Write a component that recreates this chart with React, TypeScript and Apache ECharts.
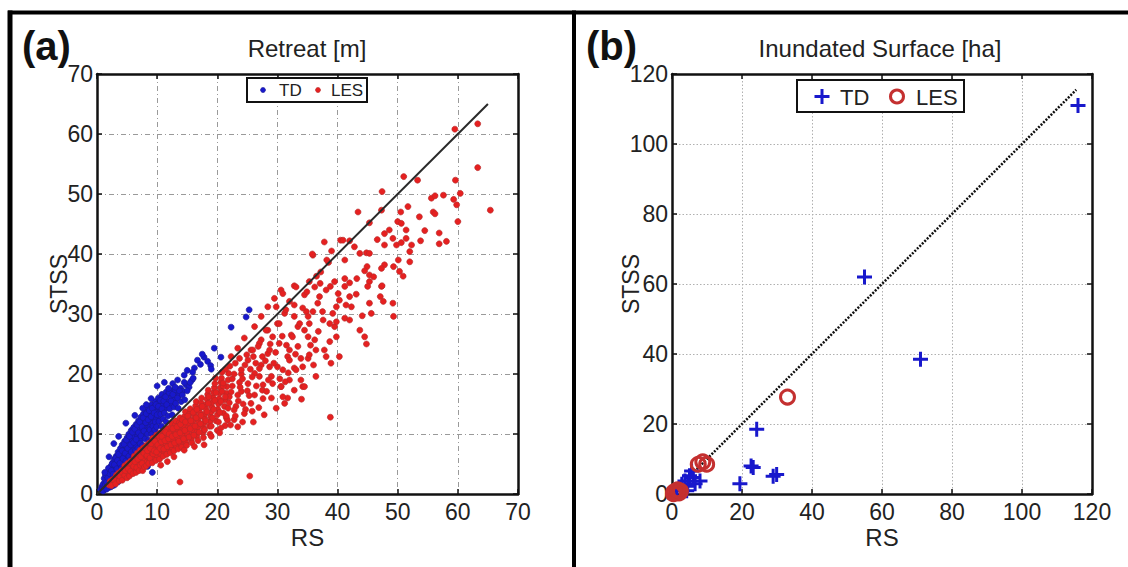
import React, { useEffect, useRef } from "react";
import * as echarts from "echarts";

// ---------- Panel (a): Retreat [m] ----------
const retreatTicks = [0, 10, 20, 30, 40, 50, 60, 70];

const tdCore: number[][] = [
  [0.6,0.7],[0.8,1.2],[0.9,0.9],[1.0,1.6],[1.1,0.6],[1.2,1.1],[1.3,2.0],[1.4,1.5],[1.5,0.9],[1.5,2.5],
  [1.7,1.3],[1.7,3.0],[1.8,1.9],[1.9,3.5],[2.0,1.1],[2.0,2.4],[2.1,4.0],[2.2,1.6],[2.2,3.0],[2.3,4.6],
  [2.4,2.1],[2.5,3.5],[2.6,1.4],[2.6,5.2],[2.7,2.7],[2.8,4.1],[2.9,5.8],[3.0,1.9],[3.0,3.2],[3.1,4.7],
  [3.2,6.3],[3.3,2.5],[3.4,3.8],[3.5,5.3],[3.5,7.0],[3.6,3.0],[3.7,4.4],[3.8,6.0],[3.9,7.6],[4.0,3.6],
  [4.0,5.0],[4.1,6.6],[4.2,8.2],[4.3,4.2],[4.4,5.7],[4.5,7.2],[4.6,8.8],[4.7,4.8],[4.8,6.3],[4.9,7.9],
  [5.0,9.4],[5.0,5.4],[5.1,6.9],[5.2,8.5],[5.3,10.0],[5.4,6.0],[5.5,7.6],[5.6,9.1],[5.7,10.6],[5.8,6.7],
  [5.9,8.2],[6.0,9.7],[6.1,11.1],[6.2,7.3],[6.3,8.8],[6.4,10.3],[6.5,11.6],[6.6,8.0],[6.7,9.5],[6.8,11.0],
  [6.9,12.2],[7.0,8.6],[7.1,10.1],[7.2,11.6],[7.3,12.8],[7.4,9.2],[7.5,10.7],[7.6,12.1],[7.7,13.3],[7.8,9.9],
  [7.9,11.3],[8.0,12.6],[8.1,13.8],[8.3,10.5],[8.4,11.9],[8.5,13.2],[8.6,14.3],[8.8,11.1],[8.9,12.5],[9.0,13.8],
  [9.1,14.9],[9.3,11.8],[9.4,13.1],[9.5,14.4],[9.7,15.4],[9.8,12.4],[9.9,13.7],[10.0,15.0],[10.2,16.0],[10.3,13.0],
  [10.4,14.3],[10.6,15.5],[10.8,16.6],[10.9,13.6],[11.0,14.9],[11.2,16.1],[11.5,17.0],[11.5,14.3],[11.7,15.5],[11.9,16.6],
  [12.2,15.0],[12.4,16.1],[12.7,17.3],[12.9,15.7],[13.2,16.8],[13.6,16.4],[13.9,17.6],[14.3,17.1],[14.8,18.2],[15.3,17.8],
  [15.8,19.0],[1.0,0.5],[1.6,0.8],[2.3,1.2],[2.9,1.5],[3.5,2.0],[4.2,2.5],[5.1,3.2],[6.7,4.0],[8.4,4.6],[9.2,3.6]
];

const tdFill: number[][] = [
  [1.2,2.6],[1.4,3.2],[1.6,2.0],[1.8,2.7],[1.9,4.3],[2.1,3.4],[2.3,2.0],[2.4,3.9],[2.5,5.0],[2.7,3.3],
  [2.8,1.9],[2.9,4.9],[3.1,2.6],[3.1,6.0],[3.3,4.2],[3.4,5.6],[3.6,6.6],[3.7,3.5],[3.8,5.1],[3.9,2.7],
  [4.1,4.4],[4.2,7.2],[4.3,5.9],[4.4,3.1],[4.5,8.3],[4.6,4.8],[4.7,6.8],[4.8,5.5],[4.9,9.0],[5.0,3.6],
  [5.1,7.6],[5.2,4.8],[5.3,6.3],[5.4,9.6],[5.5,5.6],[5.6,8.2],[5.7,7.0],[5.8,4.5],[5.9,10.3],[6.0,6.2],
  [6.1,8.6],[6.2,5.2],[6.3,10.8],[6.4,7.2],[6.5,9.1],[6.6,5.6],[6.7,11.5],[6.8,7.6],[6.9,10.2],[7.0,6.3],
  [7.1,12.0],[7.2,8.4],[7.3,9.7],[7.4,6.8],[7.5,11.2],[7.6,8.1],[7.7,12.7],[7.8,10.5],[7.9,7.3],[8.0,9.2],
  [8.1,11.9],[8.2,13.4],[8.3,8.0],[8.4,10.0],[8.5,12.4],[8.6,9.0],[8.7,13.9],[8.8,10.7],[8.9,8.7],[9.0,12.9],
  [9.1,10.0],[9.2,14.3],[9.3,11.3],[9.4,9.4],[9.5,13.5],[9.6,10.7],[9.7,12.0],[9.8,14.9],[9.9,11.2],[10.0,13.2],
  [10.1,10.0],[10.2,14.6],[10.3,12.1],[10.5,15.6],[10.6,13.3],[10.7,11.3],[10.8,14.2],[11.0,12.5],[11.1,15.5],[11.2,13.5],
  [11.4,16.2],[11.5,12.0],[11.6,14.9],[11.8,13.0],[12.0,16.9],[12.1,14.2],[12.3,15.5],[12.5,13.2],[12.6,16.6],[12.8,14.5],
  [13.0,17.4],[13.1,15.1],[13.4,16.0],[13.5,14.3],[13.7,17.2],[14.0,15.4],[14.2,16.5],[14.5,18.6],[14.6,15.7],[15.0,17.2],
  [15.5,18.6],[16.0,19.3]
];

const tdSparse: number[][] = [
  [25.3,30.7],[24.8,29.5],[22.3,27.8],[19.5,24.3],[16.7,22.3],[17.2,21.6],[17.8,22.8],[18.4,22.1],[16.2,21.0],[18.9,21.4],
  [17.5,23.3],[14.5,19.8],[15.0,20.6],[13.4,19.0],[12.6,18.4],[10.0,18.0],[11.2,18.6],[7.6,14.3],[6.3,13.1],[4.8,11.8],
  [3.6,9.6],[2.8,8.4],[2.0,6.2],[1.3,3.6],[20.6,22.8],[19.0,20.8],[15.9,20.3],[13.0,17.8],[11.9,17.6],[9.0,15.9],[8.2,14.9]
];

const lesCore: number[][] = [
  [2.0,1.5],[2.2,2.1],[2.5,1.8],[2.6,2.4],[2.9,2.0],[3.0,2.6],[3.2,3.1],[3.3,2.2],[3.5,2.9],[3.6,3.5],
  [3.9,2.5],[4.0,3.2],[4.1,3.9],[4.3,2.8],[4.4,3.5],[4.5,4.2],[4.6,4.7],[4.8,3.1],[4.9,3.8],[5.0,4.5],
  [5.1,5.1],[5.3,3.4],[5.4,4.1],[5.5,4.8],[5.6,5.5],[5.8,3.7],[5.9,4.4],[6.0,5.1],[6.1,5.8],[6.2,6.3],
  [6.3,4.1],[6.4,4.8],[6.5,5.5],[6.6,6.2],[6.7,6.8],[6.8,4.3],[6.9,5.1],[7.0,5.9],[7.1,6.6],[7.2,7.3],
  [7.3,4.7],[7.4,5.5],[7.5,6.3],[7.6,7.0],[7.7,7.7],[7.8,5.0],[7.9,5.8],[8.0,6.6],[8.1,7.4],[8.2,8.1],
  [8.3,5.3],[8.4,6.1],[8.5,6.9],[8.6,7.7],[8.7,8.5],[8.8,5.6],[8.9,6.4],[9.0,7.2],[9.1,8.0],[9.2,8.8],
  [9.3,9.3],[9.4,6.0],[9.5,6.8],[9.6,7.6],[9.7,8.4],[9.8,9.2],[9.9,9.8],[10.0,6.2],[10.1,7.0],[10.2,7.8],
  [10.3,8.6],[10.4,9.4],[10.5,10.2],[10.6,6.6],[10.7,7.4],[10.8,8.2],[10.9,9.0],[11.0,9.8],[11.1,10.6],[11.2,6.9],
  [11.3,7.7],[11.4,8.5],[11.5,9.3],[11.6,10.1],[11.7,10.9],[11.8,7.2],[11.9,8.0],[12.0,8.8],[12.1,9.6],[12.2,10.4],
  [12.3,11.2],[12.4,11.8],[12.5,7.5],[12.6,8.3],[12.7,9.1],[12.8,9.9],[12.9,10.7],[13.0,11.5],[13.1,12.2],[13.2,7.9],
  [13.3,8.7],[13.4,9.5],[13.5,10.3],[13.6,11.1],[13.7,11.9],[13.8,12.7],[14.0,8.2],[14.1,9.0],[14.2,9.8],[14.3,10.6],
  [14.4,11.4],[14.5,12.2],[14.6,13.0],[14.7,13.7],[14.8,8.6],[14.9,9.4],[15.0,10.2],[15.1,11.0],[15.2,11.8],[15.3,12.6],
  [15.4,13.4],[15.5,14.2],[15.7,9.1],[15.8,9.9],[15.9,10.7],[16.0,11.5],[16.1,12.3],[16.2,13.1],[16.3,13.9],[16.4,14.7],
  [16.5,15.4],[16.6,9.6],[16.7,10.4],[16.8,11.2],[16.9,12.0],[17.0,12.8],[17.1,13.6],[17.2,14.4],[17.3,15.2],[17.4,16.0],
  [17.6,10.2],[17.7,11.0],[17.8,11.8],[17.9,12.6],[18.0,13.4],[18.1,14.2],[18.2,15.0],[18.3,15.8],[18.4,16.6],[18.5,17.3],
  [18.7,11.3],[18.8,12.1],[18.9,12.9],[19.0,13.7],[19.1,14.5],[19.2,15.3],[19.3,16.1],[19.4,16.9],[19.5,17.7],[19.6,18.4],
  [19.8,12.2],[20.0,13.2],[20.1,14.1],[20.2,15.0],[20.3,15.9],[20.4,16.8],[20.5,17.7],[20.6,18.6],[20.7,19.3],[21.0,13.5],
  [21.2,14.6],[21.3,15.7],[21.5,16.8],[21.6,17.9],[21.8,19.0],[21.9,20.1]
];

const lesFill: number[][] = [
  [2.4,1.4],[2.8,2.4],[3.1,1.7],[3.4,3.2],[3.7,2.2],[3.8,3.0],[4.2,2.3],[4.2,3.6],[4.6,3.1],[4.7,3.9],
  [5.0,2.7],[5.2,4.2],[5.4,3.0],[5.6,3.8],[5.7,5.1],[6.0,3.4],[6.1,4.6],[6.3,5.4],[6.5,3.6],[6.6,4.4],
  [6.8,5.8],[6.9,6.6],[7.0,3.9],[7.2,4.8],[7.3,6.2],[7.5,5.1],[7.6,3.9],[7.8,6.8],[7.9,4.5],[8.0,7.7],
  [8.2,4.7],[8.3,6.4],[8.4,7.2],[8.6,5.1],[8.8,6.0],[8.9,7.6],[9.0,8.4],[9.2,5.2],[9.3,6.7],[9.5,7.2],
  [9.6,8.8],[9.8,5.6],[9.9,7.0],[10.1,8.2],[10.2,9.8],[10.4,5.8],[10.5,7.6],[10.7,8.7],[10.8,9.6],[11.0,6.3],
  [11.1,7.5],[11.3,8.9],[11.4,10.3],[11.6,6.6],[11.7,7.9],[11.9,9.2],[12.0,10.0],[12.2,6.9],[12.3,8.2],[12.5,9.6],
  [12.6,10.9],[12.8,7.2],[12.9,8.5],[13.1,9.9],[13.3,11.2],[13.5,7.5],[13.6,8.8],[13.8,10.2],[13.9,11.6],[14.1,7.8],
  [14.2,12.4],[14.4,9.2],[14.6,10.6],[14.7,12.0],[14.9,8.1],[15.1,13.0],[15.3,9.5],[15.5,10.9],[15.6,12.2],[15.8,8.5],
  [16.0,13.6],[16.1,9.8],[16.3,11.3],[16.5,12.7],[16.6,14.1],[16.8,8.9],[17.0,10.3],[17.2,11.7],[17.3,13.1],[17.5,14.6],
  [17.7,9.4],[17.9,10.7],[18.1,12.2],[18.3,13.7],[18.5,15.1],[18.6,16.2],[18.8,10.0],[19.0,11.3],[19.2,12.7],[19.4,14.1],
  [19.6,15.6],[19.8,16.9],[20.0,10.6],[20.2,12.0],[20.4,13.6],[20.6,15.4],[20.8,17.1],[21.0,18.0],[21.3,11.4],[21.5,12.7],
  [21.8,14.3],[22.0,15.2],[22.3,17.0],[22.5,19.2],[22.8,12.4],[23.1,14.6],[23.4,16.5],[23.7,18.6],[24.0,20.0],[24.2,12.0],
  [24.7,14.1],[25.0,17.2],[25.5,20.8],[25.8,13.8]
];

const lesMid: number[][] = [
  [32.8,34.7],[30.6,34.0],[34.5,33.2],[29.5,32.6],[32.8,31.5],[28.4,31.2],[31.2,30.1],[34.8,30.4],[27.3,29.6],[30.0,28.4],
  [33.4,27.9],[26.2,27.9],[28.4,27.3],[32.3,26.5],[35.1,26.2],[24.5,26.0],[27.3,25.7],[30.3,25.1],[33.4,24.6],[23.4,24.3],
  [25.6,24.0],[28.4,23.4],[31.7,22.9],[35.1,22.6],[22.3,22.9],[25.1,22.3],[27.3,21.5],[30.0,21.2],[32.8,21.0],[24.0,20.7],
  [26.2,20.1],[29.0,19.6],[33.9,19.0],[25.1,18.4],[27.6,18.2],[30.6,17.9],[32.8,17.3],[24.0,17.1],[26.2,16.5],[29.0,16.0],
  [31.7,16.0],[25.6,15.1],[27.8,13.2],[24.5,13.4],[34.2,17.9],[31.2,15.1],[22.8,14.0],[21.7,12.3],[23.4,11.2],[20.6,11.0],
  [19.0,9.6],[17.8,8.2],[16.2,7.9],[14.5,7.3],[13.8,2.0],[25.4,3.0],[12.8,6.2],[11.7,5.4],[10.6,4.8],[38.8,12.8],
  [33.1,34.5],[32.0,32.1],[30.9,33.4],[35.3,35.4],[37.0,32.9],[34.9,33.7],[36.2,34.5],[37.1,35.1],[38.1,34.0],[34.2,31.0],
  [35.1,29.6],[35.9,30.4],[36.7,31.8],[35.3,28.4],[34.5,27.3],[37.6,29.0],[38.7,28.4],[39.5,27.9],[39.8,26.2],[38.7,25.4],
  [37.8,24.0],[38.1,22.9],[40.3,22.9],[38.9,21.8],[36.2,25.7],[36.4,24.0],[35.3,23.2],[33.9,22.6],[34.2,21.2],[33.1,20.7],
  [36.4,19.6],[34.5,17.9],[32.0,19.0],[30.9,20.7],[30.6,17.9],[30.9,16.2],[28.7,24.0],[27.5,22.9],[26.4,21.8],[29.2,26.2],
  [28.1,27.3],[30.3,28.4],[27.0,25.1],[25.9,24.0],[28.7,21.2],[27.0,19.6],[29.2,18.4],[27.5,17.3],[32.5,26.2],[32.0,24.0],
  [32.8,29.6],[31.4,30.7],[29.8,31.2],[33.7,28.4],[32.0,22.3],[21.0,18.5],[21.4,20.8],[22.0,16.2],[22.5,18.0],[22.8,20.0],
  [23.0,21.8],[23.5,15.5],[23.8,17.8],[24.2,19.2],[24.6,21.5],[24.9,23.2],[25.3,16.4],[25.8,19.5],[26.0,22.9],[26.5,18.0],
  [26.8,24.6],[27.0,20.9],[27.6,15.9],[28.0,22.2],[28.5,19.0],[28.8,25.0],[29.4,21.8],[29.7,23.6],[30.4,19.2],[30.8,26.3],
  [31.5,24.8],[31.8,20.2],[20.4,10.2],[21.5,13.0],[22.2,11.5],[23.0,13.0],[20.8,20.3],[22.1,21.3],[23.7,22.6],[19.7,19.3],
  [21.3,16.2],[24.3,15.0],[26.9,14.4],[28.2,17.1],[29.8,14.3],[31.3,18.7],[33.0,23.3],[35.5,24.8],[36.8,27.1],[37.5,30.4],
  [36.0,21.5],[34.0,15.8],[26.0,12.0]
];

const lesUpper: number[][] = [
  [40.5,42.3],[42.0,42.2],[42.8,41.2],[41.2,39.0],[35.9,39.8],[43.4,47.0],[47.3,47.3],[45.3,45.2],[47.4,50.4],[51.0,52.9],
  [53.3,52.3],[46.6,42.4],[47.8,41.5],[47.8,43.4],[48.6,44.0],[49.2,42.6],[49.8,41.5],[50.6,41.9],[51.4,42.6],[52.3,41.5],
  [52.0,40.4],[50.0,45.4],[50.6,45.1],[51.4,44.0],[50.5,47.0],[51.7,47.9],[53.6,46.2],[54.5,43.9],[53.8,42.2],[55.6,49.3],
  [56.2,49.7],[57.6,49.8],[55.9,47.0],[56.2,46.7],[56.9,43.5],[58.1,42.1],[56.9,41.7],[59.3,49.1],[59.6,52.3],[60.4,50.1],
  [59.8,48.2],[60.0,45.4],[63.3,54.4],[65.4,47.3],[43.7,40.1],[44.8,40.2],[45.3,40.1],[50.1,39.0],[52.0,38.7],[47.8,38.2],
  [49.3,37.9],[50.3,37.1],[50.9,36.3],[44.9,37.9],[44.5,37.2],[45.3,36.5],[46.0,36.2],[47.3,37.6],[45.3,35.4],[45.0,34.6],
  [47.3,34.6],[43.2,35.9],[41.2,35.9],[42.0,35.2],[41.2,34.6],[43.1,33.3],[42.0,32.9],[42.3,31.2],[39.5,35.4],[38.8,34.6],
  [40.1,33.4],[40.3,32.3],[39.8,31.2],[49.2,31.8],[49.3,29.6],[44.1,29.7],[43.7,27.3],[44.5,26.2],[44.8,25.0],[45.3,31.8],
  [45.6,30.1],[47.4,34.7],[47.1,32.9],[47.6,32.1],[41.4,31.5],[41.2,29.3],[42.0,29.0],[39.2,30.1],[39.8,28.7],[59.5,60.8],
  [63.3,61.7],[37.2,37.0],[38.5,38.6],[36.5,36.3],[35.8,40.0],[37.8,42.0],[39.0,40.5],[40.9,42.3],[38.2,39.0]
];

const retreatLine: number[][] = [[0, 0], [65, 65]];

// ---------- Panel (b): Inundated Surface [ha] ----------
const surfaceTicks = [0, 20, 40, 60, 80, 100, 120];

const surfaceTD: number[][] = [
  [116,111],[55,62],[71,38.5],[24.2,18.5],[22.6,8.0],[23.2,7.6],[28.9,5.1],[29.9,5.6],[19.4,2.9],[8.0,3.7],
  [6.1,4.7],[5.6,6.6],[3.7,3.7],[2.8,2.8],[6.6,2.9],[2.3,1.3],[4.2,0.9],[1.3,0.9],[5.0,5.2],[4.5,2.2]
];

const surfaceLES: number[][] = [
  [33,27.7],[9.9,8.5],[7.5,8.5],[8.8,9.2],[1.3,0.4],[0.6,0.6],[2.0,0.3],[0.4,0.1],[1.6,1.2],[2.4,0.8]
];

const surfaceLine: number[][] = [[0, 0], [115.5, 115.5]];

// ---------- styling ----------
const FONT = "'Liberation Sans', Arial, Helvetica, sans-serif";
const TXT = "#222222";
const BLUE = "#1818cc";
const RED = "#e62020";
const DARKRED = "#c43030";
const PLUS = "path://M4,0h2v4h4v2h-4v4h-2v-4h-4v-2h4z";

function mainX(grid: number, max: number, interval: number, gridStyle: any) {
  return {
    gridIndex: grid, type: "value", min: 0, max, interval, position: "bottom",
    name: "RS", nameLocation: "middle", nameGap: 31, nameMoveOverlap: false,
    nameTextStyle: { fontSize: 24, color: TXT, fontFamily: FONT },
    axisLine: { show: true, onZero: false, lineStyle: { color: "#111", width: 2.5 } },
    axisTick: { show: true, inside: true, length: 5, lineStyle: { color: "#111", width: 1.5 } },
    axisLabel: { fontSize: 23, color: TXT, fontFamily: FONT, margin: 6 },
    splitLine: { show: true, lineStyle: gridStyle },
  };
}
function sideX(grid: number, max: number, interval: number) {
  return {
    gridIndex: grid, type: "value", min: 0, max, interval, position: "top",
    axisLine: { show: true, onZero: false, lineStyle: { color: "#111", width: 2.5 } },
    axisTick: { show: true, inside: true, length: 5, lineStyle: { color: "#111", width: 1.5 } },
    axisLabel: { show: false }, splitLine: { show: false },
  };
}
function mainY(grid: number, max: number, interval: number, gridStyle: any, gap: number) {
  return {
    gridIndex: grid, type: "value", min: 0, max, interval, position: "left",
    name: "STSS", nameLocation: "middle", nameGap: gap, nameMoveOverlap: false,
    nameTextStyle: { fontSize: 23, color: TXT, fontFamily: FONT },
    axisLine: { show: true, onZero: false, lineStyle: { color: "#111", width: 2.5 } },
    axisTick: { show: true, inside: true, length: 5, lineStyle: { color: "#111", width: 1.5 } },
    axisLabel: { fontSize: 23, color: TXT, fontFamily: FONT, margin: 4 },
    splitLine: { show: true, lineStyle: gridStyle },
  };
}
function sideY(grid: number, max: number, interval: number) {
  return {
    gridIndex: grid, type: "value", min: 0, max, interval, position: "right",
    axisLine: { show: true, onZero: false, lineStyle: { color: "#111", width: 2.5 } },
    axisTick: { show: true, inside: true, length: 5, lineStyle: { color: "#111", width: 1.5 } },
    axisLabel: { show: false }, splitLine: { show: false },
  };
}

export default function App() {
  const ref = useRef<HTMLDivElement>(null);

  useEffect(() => {
    if (!ref.current) return;
    const chart = echarts.init(ref.current, null, { renderer: "svg" });

    const gridA = { color: "#9a9a9a", width: 1, type: [5, 3, 1, 3] };
    const gridB = { color: "#b0b0b0", width: 1, type: [1.5, 2] };
    const maxA = retreatTicks[retreatTicks.length - 1];
    const stepA = retreatTicks[1] - retreatTicks[0];
    const maxB = surfaceTicks[surfaceTicks.length - 1];
    const stepB = surfaceTicks[1] - surfaceTicks[0];

    const G = (o: any) => ({ z: 100, ...o });

    chart.setOption({
      animation: false,
      backgroundColor: "#ffffff",
      textStyle: { fontFamily: FONT },
      grid: [
        { left: 97, top: 74, width: 421, height: 420, show: false },
        { left: 672, top: 74, width: 420, height: 420, show: false },
      ],
      xAxis: [mainX(0, maxA, stepA, gridA), sideX(0, maxA, stepA), mainX(1, maxB, stepB, gridB), sideX(1, maxB, stepB)],
      yAxis: [mainY(0, maxA, stepA, gridA, 27), sideY(0, maxA, stepA), mainY(1, maxB, stepB, gridB, 30), sideY(1, maxB, stepB)],
      series: [
        {
          name: "TD", type: "scatter", xAxisIndex: 0, yAxisIndex: 0,
          data: [...tdCore, ...tdFill, ...tdSparse], symbol: "circle", symbolSize: 6,
          itemStyle: { color: BLUE, borderColor: "#1a1a90", borderWidth: 0.6, opacity: 1 },
        },
        {
          name: "LES", type: "scatter", xAxisIndex: 0, yAxisIndex: 0,
          data: [...lesCore, ...lesFill, ...lesMid, ...lesUpper], symbol: "circle", symbolSize: 6,
          itemStyle: { color: RED, borderColor: "#b32a2a", borderWidth: 0.6, opacity: 1 },
        },
        {
          name: "fit-a", type: "line", xAxisIndex: 0, yAxisIndex: 0, data: retreatLine,
          symbol: "none", lineStyle: { color: "#2a2a2a", width: 2 }, z: 5,
        },
        {
          name: "fit-b", type: "line", xAxisIndex: 2, yAxisIndex: 2, data: surfaceLine,
          symbol: "none", lineStyle: { color: "#111", width: 2.5, type: [2, 1.5] }, z: 1,
        },
        {
          name: "TD", type: "scatter", xAxisIndex: 2, yAxisIndex: 2, clip: false,
          data: surfaceTD, symbol: PLUS, symbolSize: 15,
          itemStyle: { color: BLUE, opacity: 1 }, z: 3,
        },
        {
          name: "LES", type: "scatter", xAxisIndex: 2, yAxisIndex: 2, clip: false,
          data: surfaceLES, symbol: "circle", symbolSize: 14,
          itemStyle: { color: "rgba(0,0,0,0)", borderColor: DARKRED, borderWidth: 3, opacity: 1 }, z: 3,
        },
      ],
      graphic: [
        // outer frame
        G({ type: "line", shape: { x1: 8, y1: 12.5, x2: 1128, y2: 12.5 }, style: { stroke: "#000", lineWidth: 4 } }),
        G({ type: "line", shape: { x1: 10, y1: 10.5, x2: 10, y2: 567 }, style: { stroke: "#000", lineWidth: 5 } }),
        G({ type: "line", shape: { x1: 574, y1: 10.5, x2: 574, y2: 567 }, style: { stroke: "#000", lineWidth: 4 } }),
        // panel labels
        G({ type: "text", x: 22, y: 46, style: { text: "(a)", fontSize: 40, fontWeight: "bold", fontFamily: FONT, fill: "#111", align: "left", verticalAlign: "middle" } }),
        G({ type: "text", x: 586, y: 46, style: { text: "(b)", fontSize: 40, fontWeight: "bold", fontFamily: FONT, fill: "#111", align: "left", verticalAlign: "middle" } }),
        // titles
        G({ type: "text", x: 307, y: 48, style: { text: "Retreat [m]", fontSize: 24, fontFamily: FONT, fill: TXT, align: "center", verticalAlign: "middle" } }),
        G({ type: "text", x: 880, y: 48, style: { text: "Inundated Surface [ha]", fontSize: 24, fontFamily: FONT, fill: TXT, align: "center", verticalAlign: "middle" } }),
        // legend (a)
        G({ type: "rect", shape: { x: 247, y: 78, width: 120, height: 24 }, style: { fill: "#fff", stroke: "#111", lineWidth: 2 } }),
        G({ type: "circle", shape: { cx: 263, cy: 90, r: 2.5 }, style: { fill: BLUE, stroke: "#1a1a90", lineWidth: 0.6 } }),
        G({ type: "text", x: 279, y: 90.5, style: { text: "TD", fontSize: 17, fontFamily: FONT, fill: TXT, align: "left", verticalAlign: "middle" } }),
        G({ type: "circle", shape: { cx: 318, cy: 90, r: 2.5 }, style: { fill: RED, stroke: "#b32a2a", lineWidth: 0.6 } }),
        G({ type: "text", x: 331, y: 90.5, style: { text: "LES", fontSize: 17, fontFamily: FONT, fill: TXT, align: "left", verticalAlign: "middle" } }),
        // legend (b)
        G({ type: "rect", shape: { x: 797, y: 80, width: 167, height: 32 }, style: { fill: "#fff", stroke: "#111", lineWidth: 2 } }),
        G({ type: "line", shape: { x1: 814.5, y1: 96.5, x2: 829.5, y2: 96.5 }, style: { stroke: BLUE, lineWidth: 3 } }),
        G({ type: "line", shape: { x1: 822, y1: 89, x2: 822, y2: 104 }, style: { stroke: BLUE, lineWidth: 3 } }),
        G({ type: "text", x: 840, y: 97, style: { text: "TD", fontSize: 22, fontFamily: FONT, fill: TXT, align: "left", verticalAlign: "middle" } }),
        G({ type: "circle", shape: { cx: 897, cy: 96.5, r: 6.5 }, style: { fill: "none", stroke: DARKRED, lineWidth: 3 } }),
        G({ type: "text", x: 916, y: 97, style: { text: "LES", fontSize: 22, fontFamily: FONT, fill: TXT, align: "left", verticalAlign: "middle" } }),
      ],
    });

    return () => chart.dispose();
  }, []);

  return (
    <div
      ref={ref}
      style={{ position: "fixed", left: 0, top: 0, width: 1128, height: 567, background: "#fff" }}
    />
  );
}
